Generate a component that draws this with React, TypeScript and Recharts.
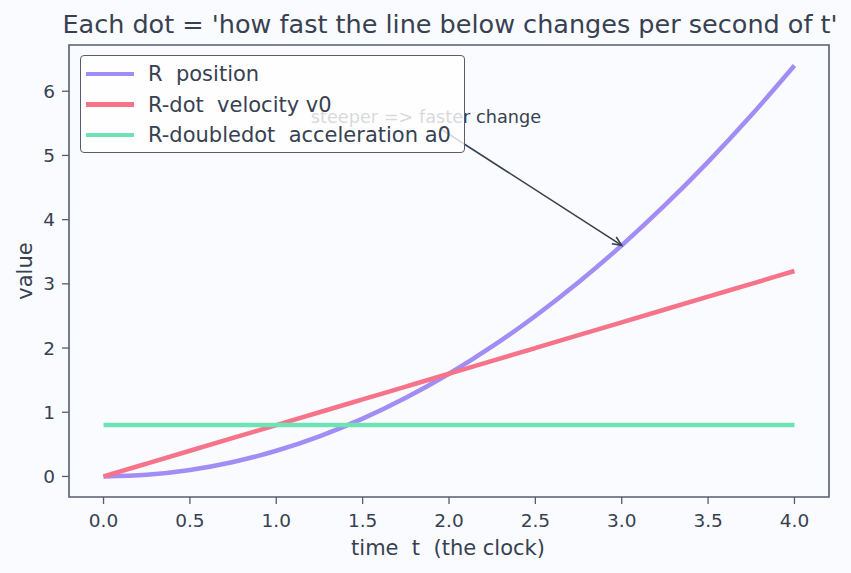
import { LineChart, Line, XAxis, YAxis, ReferenceArea, ReferenceLine, ReferenceDot } from 'recharts';

const times = [0, 0.25, 0.5, 0.75, 1, 1.25, 1.5, 1.75, 2, 2.25, 2.5, 2.75, 3, 3.25, 3.5, 3.75, 4];
const position = [0, 0.025, 0.1, 0.225, 0.4, 0.625, 0.9, 1.225, 1.6, 2.025, 2.5, 3.025, 3.6, 4.225, 4.9, 5.625, 6.4];
const velocity = [0, 0.2, 0.4, 0.6, 0.8, 1.0, 1.2, 1.4, 1.6, 1.8, 2.0, 2.2, 2.4, 2.6, 2.8, 3.0, 3.2];
const acceleration = [0.8, 0.8, 0.8, 0.8, 0.8, 0.8, 0.8, 0.8, 0.8, 0.8, 0.8, 0.8, 0.8, 0.8, 0.8, 0.8, 0.8];

const xTicks = [0, 0.5, 1, 1.5, 2, 2.5, 3, 3.5, 4];
const yTicks = [0, 1, 2, 3, 4, 5, 6];

const series = [
  { key: 'pos', name: 'R  position', color: '#a28cf5' },
  { key: 'vel', name: 'R-dot  velocity v0', color: '#f7738a' },
  { key: 'acc', name: 'R-doubledot  acceleration a0', color: '#6fe3b5' },
];

const data = times.map((t, i) => ({ t, pos: position[i], vel: velocity[i], acc: acceleration[i] }));

const INK = '#374151';
const FRAME = '#585c6c';
const FONT = '"DejaVu Sans", sans-serif';

function LegendBox() {
  return (
    <div
      style={{
        position: 'absolute',
        left: 80,
        top: 55,
        width: 383,
        height: 96,
        border: `1.5px solid ${FRAME}`,
        borderRadius: 4,
        background: 'rgba(255,255,255,0.8)',
        fontFamily: FONT,
        fontSize: 21,
        color: INK,
        whiteSpace: 'pre',
      }}
    >
      {series.map((s, i) => (
        <div
          key={s.key}
          style={{
            position: 'absolute',
            left: 5,
            top: 3 + i * 30.5,
            height: 30,
            display: 'flex',
            alignItems: 'center',
          }}
        >
          <span style={{ width: 48, height: 4.5, background: s.color, marginRight: 14, display: 'inline-block' }} />
          <span>{s.name}</span>
        </div>
      ))}
    </div>
  );
}

function ArrowLine(props: any) {
  const { x1, y1, x2, y2 } = props;
  const ang = Math.atan2(y2 - y1, x2 - x1);
  const L = 10;
  const w = 0.42;
  const ax = x2 - L * Math.cos(ang - w);
  const ay = y2 - L * Math.sin(ang - w);
  const bx = x2 - L * Math.cos(ang + w);
  const by = y2 - L * Math.sin(ang + w);
  return (
    <g stroke={INK} strokeWidth={1.6} fill="none">
      <line x1={x1} y1={y1} x2={x2} y2={y2} />
      <polyline points={`${ax},${ay} ${x2},${y2} ${bx},${by}`} />
    </g>
  );
}

export default function App() {
  return (
    <div style={{ position: 'absolute', left: 0, top: 0, width: 851, height: 573, background: '#fafbfe' }}>
      <LineChart width={851} height={573} data={data} margin={{ top: 45, right: 22, left: 19, bottom: 36 }}>
        <XAxis
          dataKey="t"
          type="number"
          domain={[-0.2, 4.2]}
          ticks={xTicks}
          tickFormatter={(v) => v.toFixed(1)}
          axisLine={false}
          tickLine={{ stroke: FRAME, strokeWidth: 1.3 }}
          tickSize={7}
          tickMargin={10}
          tick={{ fill: INK, fontSize: 18.5, fontFamily: FONT }}
          height={40}
        />
        <YAxis
          type="number"
          domain={[-0.32, 6.72]}
          ticks={yTicks}
          axisLine={false}
          tickLine={{ stroke: FRAME, strokeWidth: 1.3 }}
          tickSize={7}
          tickMargin={7}
          tick={{ fill: INK, fontSize: 18.5, fontFamily: FONT }}
          width={50}
        />
        <ReferenceArea x1={-0.2} x2={4.2} y1={-0.32} y2={6.72} fill="none" stroke={FRAME} strokeWidth={1.6} ifOverflow="visible" />
        {series.map((s) => (
          <Line
            key={s.key}
            type="monotone"
            dataKey={s.key}
            name={s.name}
            stroke={s.color}
            strokeWidth={4.5}
            dot={false}
            isAnimationActive={false}
          />
        ))}
        <ReferenceDot
          x={1.2}
          y={5.5}
          r={0}
          shape={(p: any) => (
            <text x={p.cx} y={p.cy} fill={INK} fontSize={17.7} fontFamily={FONT}>
              steeper =&gt; faster change
            </text>
          )}
        />
        <ReferenceLine
          segment={[
            { x: 1.96, y: 5.4 },
            { x: 3, y: 3.6 },
          ]}
          shape={(p: any) => <ArrowLine {...p} />}
        />
      </LineChart>
      <svg width={851} height={573} style={{ position: 'absolute', left: 0, top: 0, pointerEvents: 'none' }}>
        <text x={450} y={33} textAnchor="middle" fill={INK} fontSize={25.5} fontFamily={FONT} style={{ whiteSpace: 'pre' }}>
          Each dot = 'how fast the line below changes per second of t'
        </text>
        <text x={448} y={555} textAnchor="middle" fill={INK} fontSize={21} fontFamily={FONT} style={{ whiteSpace: 'pre' }}>
          time  t  (the clock)
        </text>
        <text
          x={32}
          y={271}
          textAnchor="middle"
          fill={INK}
          fontSize={21}
          fontFamily={FONT}
          transform="rotate(-90 32 271)"
        >
          value
        </text>
      </svg>
      <LegendBox />
    </div>
  );
}
